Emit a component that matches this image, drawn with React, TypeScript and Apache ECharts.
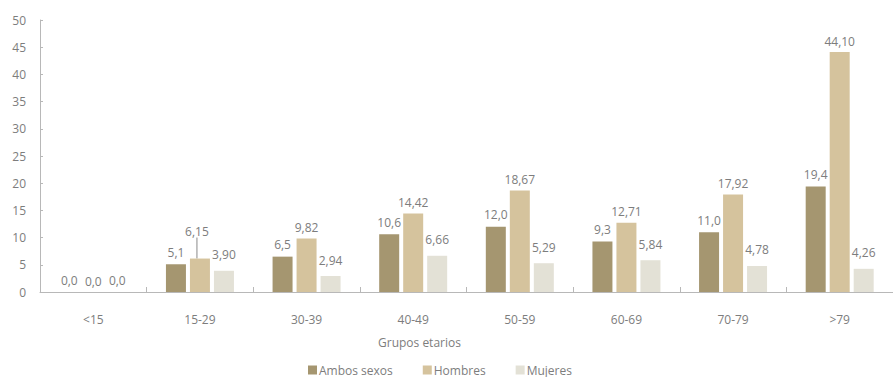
import React, { useEffect, useRef } from "react";
import * as echarts from "echarts";

const categories = ["<15", "15-29", "30-39", "40-49", "50-59", "60-69", "70-79", ">79"];
const ambos = [0.0, 5.1, 6.5, 10.6, 12.0, 9.3, 11.0, 19.4];
const hombres = [0.0, 6.15, 9.82, 14.42, 18.67, 12.71, 17.92, 44.1];
const mujeres = [0.0, 3.9, 2.94, 6.66, 5.29, 5.84, 4.78, 4.26];
const seriesNames = ["Ambos sexos", "Hombres", "Mujeres"];
const yTicks = [0, 5, 10, 15, 20, 25, 30, 35, 40, 45, 50];
const axisTitle = "Grupos etarios";

const FONT = "'Open Sans', 'Noto Sans', sans-serif";
const TXT = "#7d7d7d";

const fmt = (v: number, dec: number) => (v === 0 ? "0,0" : v.toFixed(dec).replace(".", ","));

export default function App() {
  const ref = useRef<HTMLDivElement>(null);
  useEffect(() => {
    const chart = echarts.init(ref.current!, undefined, { renderer: "svg" });
    const labelBase = { show: true, position: "top", color: TXT, fontFamily: FONT, fontSize: 12 };
    chart.setOption({
      animation: false,
      backgroundColor: "#ffffff",
      textStyle: { fontFamily: FONT },
      grid: { left: 40, right: -7, top: 20, bottom: 85 },
      legend: {
        data: seriesNames,
        top: 359,
        left: 303,
        itemWidth: 9,
        itemHeight: 9,
        itemGap: 30,
        icon: "rect",
        textStyle: { color: TXT, fontFamily: FONT, fontSize: 12, padding: [0, 0, 0, -3] },
      },
      xAxis: {
        type: "category",
        data: categories,
        axisLine: { lineStyle: { color: "#b8b8b8" } },
        axisTick: { show: true, inside: true, length: 5, lineStyle: { color: "#b8b8b8" } },
        axisLabel: { color: TXT, fontFamily: FONT, fontSize: 12, margin: 21 },
      },
      yAxis: {
        type: "value",
        min: yTicks[0],
        max: yTicks[yTicks.length - 1],
        interval: 5,
        splitLine: { show: false },
        axisLine: { show: true, lineStyle: { color: "#b8b8b8" } },
        axisTick: { show: true, inside: true, length: 3, lineStyle: { color: "#b8b8b8" } },
        axisLabel: { color: TXT, fontFamily: FONT, fontSize: 12, margin: 14 },
      },
      graphic: [
        {
          type: "text",
          left: 378,
          top: 336,
          style: { text: axisTitle, fill: TXT, font: `12px ${FONT}` },
        },
      ],
      series: [
        {
          name: seriesNames[0],
          type: "bar",
          data: ambos,
          barWidth: 20,
          barGap: "20%",
          itemStyle: { color: "#a59670" },
          label: { ...labelBase, distance: 6, formatter: (p: any) => fmt(p.value, 1) },
        },
        {
          name: seriesNames[1],
          type: "bar",
          data: hombres.map((v, i) =>
            i === 1 ? { value: v, labelLine: { show: true, lineStyle: { color: "#8a8a8a", width: 1 } } } : v
          ),
          barWidth: 20,
          barGap: "20%",
          itemStyle: { color: "#d5c39d" },
          label: { ...labelBase, distance: 5, formatter: (p: any) => (p.dataIndex === 0 ? "0,0" : fmt(p.value, 2)) },
          labelLine: { show: false },
          labelLayout: (p: any) => (p.dataIndex === 1 ? { dy: -16, dx: -3 } : {}),
        },
        {
          name: seriesNames[2],
          type: "bar",
          data: mujeres.map((v, i) => (i === 0 ? { value: v, label: { distance: 6 } } : v)),
          barWidth: 20,
          barGap: "20%",
          itemStyle: { color: "#e3e1d6" },
          label: { ...labelBase, distance: 10, formatter: (p: any) => (p.dataIndex === 0 ? "0,0" : fmt(p.value, 2)) },
        },
      ],
    });
    return () => chart.dispose();
  }, []);
  return (
    <div
      ref={ref}
      style={{ position: "fixed", left: 0, top: 0, width: 893, height: 377, background: "#fff" }}
    />
  );
}
